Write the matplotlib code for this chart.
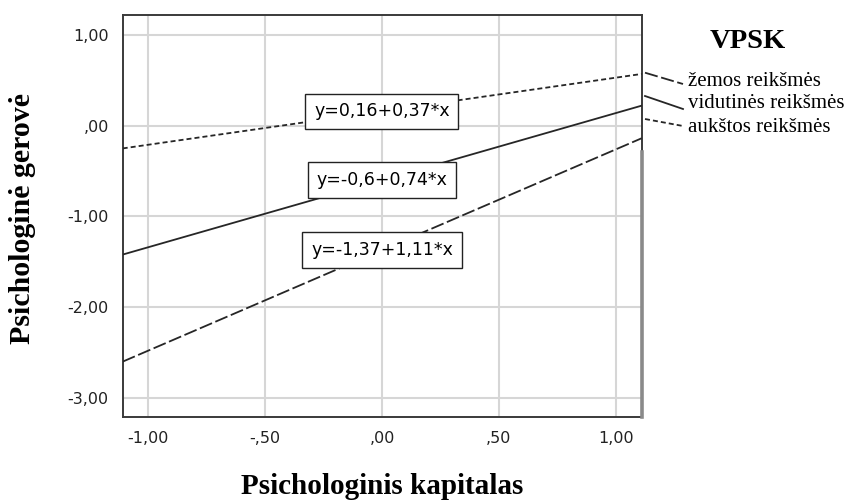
import numpy as np
import matplotlib
matplotlib.use('Agg')
import matplotlib.pyplot as plt
from matplotlib.lines import Line2D

# fitted lines (intercept, slope) for each VPSK level
groups = ['žemos reikšmės', 'vidutinės reikšmės', 'aukštos reikšmės']
intercepts = [-1.37, -0.6, 0.16]
slopes = [1.11, 0.74, 0.37]
eq_labels = ['y=-1,37+1,11*x', 'y=-0,6+0,74*x', 'y=0,16+0,37*x']

x_ticks = [-1.0, -0.5, 0.0, 0.5, 1.0]
x_ticklabels = ['-1,00', '-,50', ',00', ',50', '1,00']
y_ticks = [-3.0, -2.0, -1.0, 0.0, 1.0]
y_ticklabels = ['-3,00', '-2,00', '-1,00', ',00', '1,00']

xlim = (-1.108, 1.11)
ylim = (-3.21, 1.224)

plt.rcParams['lines.scale_dashes'] = False
serif = 'Liberation Serif'
line_col = '#262626'
dash_styles = [(0, (9.5, 2.6)), '-', (0, (3.6, 2.2))]

fig = plt.figure(figsize=(8.48, 5.01), dpi=100)
ax = fig.add_axes([0.1447, 0.1677, 0.612, 0.803])

xs = np.array(xlim)
for b0, b1, ls, lab in zip(intercepts, slopes, dash_styles, eq_labels):
    ax.plot(xs, b0 + b1 * xs, color=line_col, linewidth=1.3, linestyle=ls, zorder=3)
    ax.text(0.0, b0, lab, fontsize=12.5, ha='center', va='center', zorder=4,
            bbox=dict(boxstyle='square,pad=0.5', facecolor='white', edgecolor='#222222', linewidth=1.0))

ax.set_xlim(xlim)
ax.set_ylim(ylim)
ax.set_xticks(x_ticks)
ax.set_xticklabels(x_ticklabels, fontsize=11.5)
ax.set_yticks(y_ticks)
ax.set_yticklabels(y_ticklabels, fontsize=11.5)
ax.tick_params(length=0, pad=10, colors='#222222')
ax.grid(True, color='#d6d6d6', linewidth=1.5)
ax.set_axisbelow(True)
for sp in ax.spines.values():
    sp.set_color('#3a3a3a')
    sp.set_linewidth(1.4)
# grey artefact on the right frame
ax.axvline(xlim[1], ymin=0.0, ymax=0.659, color='#8a8a8a', linewidth=2.6, zorder=5, clip_on=False)

fig.text(0.4505, 1 - 494 / 501, 'Psichologinis kapitalas', fontsize=21, fontweight='bold',
         family=serif, ha='center', va='baseline')
fig.text(0.026, 1 - 218 / 501, 'Psichologinė gerovė', fontsize=21.5, fontweight='bold',
         family=serif, ha='center', va='center', rotation=90)

# legend
fig.text(0.882, 0.917, 'VPSK', fontsize=20.5, fontweight='bold', family=serif, ha='center', va='center')
seg_y = [(72.7, 84), (96, 109), (119, 126)]
text_y = [82, 104, 128]
for (y0, y1), ty, ls, lab in zip(seg_y, text_y, dash_styles, groups):
    fig.add_artist(Line2D([645 / 848, 683 / 848], [1 - y0 / 501, 1 - y1 / 501],
                          color=line_col, linewidth=1.3, linestyle=ls))
    fig.text(688 / 848, 1 - ty / 501, lab, fontsize=15, family=serif, ha='left', va='center')

fig.savefig('out.png', dpi=100)
